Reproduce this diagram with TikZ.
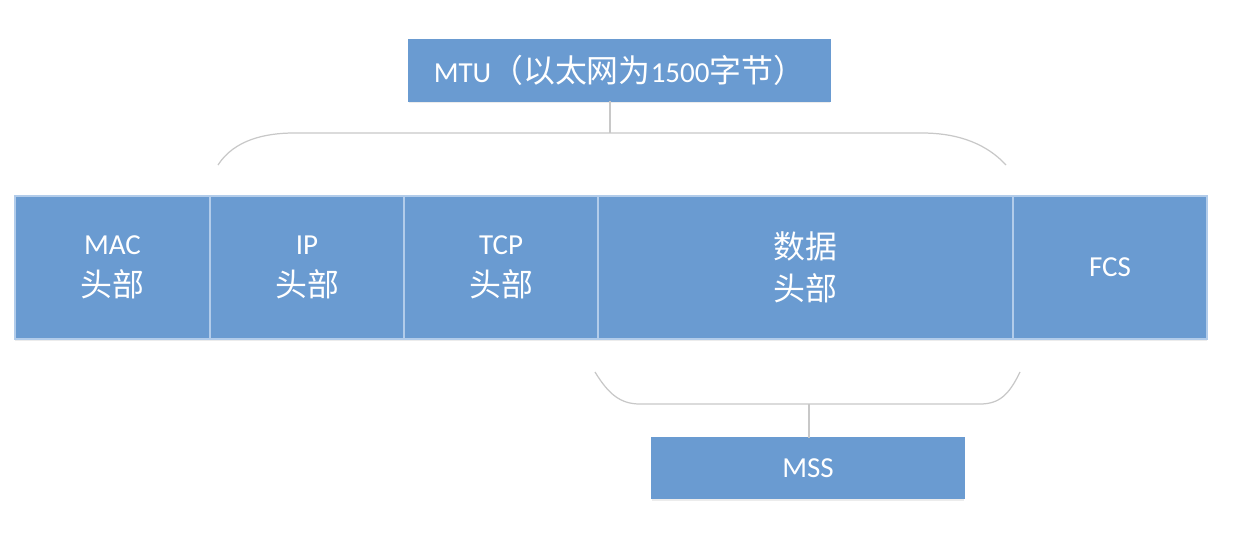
\documentclass[tikz,border=0pt]{standalone}
\usepackage{fontspec}
\setmainfont{Carlito}
\newfontfamily\cjk[Scale=1.1]{Noto Sans CJK SC}
\usetikzlibrary{positioning,shadows}
\definecolor{cellblue}{RGB}{106,155,209}
\definecolor{cellline}{RGB}{178,204,234}
\definecolor{bracegray}{RGB}{200,200,200}
\tikzset{
    cell/.style={draw=cellline,fill=cellblue,line width=0.6pt,minimum height=2.86cm,inner sep=0pt,outer sep=0pt,align=center,text=white,font=\fontsize{16.5}{24}\selectfont,drop shadow={shadow xshift=0pt,shadow yshift=-1.2pt,opacity=0.15}},
    bar/.style={cell,draw=cellblue,minimum height=1.22cm},
    brace/.style={draw=bracegray,line width=0.7pt},
}
\begin{document}
\begin{tikzpicture}
\useasboundingbox (0,0) rectangle (24.84,10.64);
% Frame fields
                \node[cell,minimum width=3.90cm,anchor=west] (mac) at (0.30,5.29) {MAC\\{\cjk 头部}};
                \node[cell,minimum width=3.88cm,right=0pt of mac] (ip) {IP\\{\cjk 头部}};
                \node[cell,minimum width=3.88cm,right=0pt of ip] (tcp) {TCP\\{\cjk 头部}};
                \node[cell,minimum width=8.30cm,right=0pt of tcp] (data) {{\cjk 数据}\\{\cjk 头部}};
                \node[cell,minimum width=3.88cm,right=0pt of data] (fcs) {FCS};
% MTU on top
                \node[bar,minimum width=8.42cm] (mtu) at (12.39,9.23) {MTU{\cjk （以太网为}1500{\cjk 字节）}};
                \coordinate (mtutip) at (12.20,7.98);
                \draw[brace] (4.36,7.34) .. controls (4.68,7.84) and (5.30,7.98) .. (5.88,7.98) -- (18.44,7.98) .. controls (19.02,7.98) and (19.66,7.84) .. (20.12,7.34);
                \draw[brace] (mtutip) -- (mtu.south -| mtutip);
% MSS below
                \node[bar,minimum width=6.24cm] (mss) at (16.16,1.28) {MSS};
                \coordinate (msstip) at (16.18,2.56);
                \draw[brace] (11.90,3.20) .. controls (12.18,2.74) and (12.42,2.56) .. (12.80,2.56) -- (19.60,2.56) .. controls (19.98,2.56) and (20.18,2.74) .. (20.40,3.20);
                \draw[brace] (msstip) -- (mss.north -| msstip);
\end{tikzpicture}
\end{document}
